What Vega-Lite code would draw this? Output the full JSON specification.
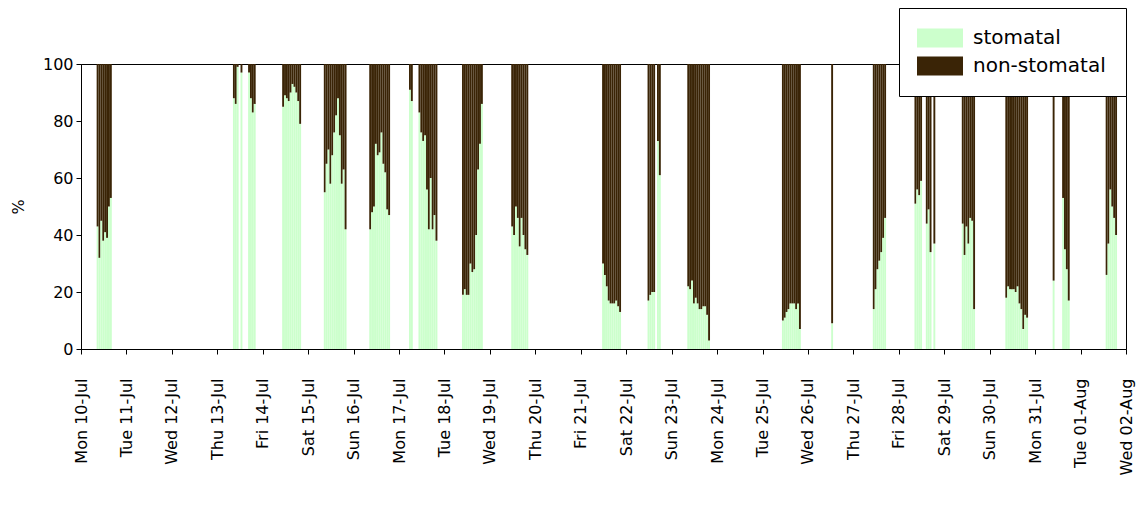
{
  "$schema": "https://vega.github.io/schema/vega-lite/v6.json",
  "width": 1045,
  "height": 285,
  "autosize": {"type": "none"},
  "padding": {"left": 81, "top": 64, "right": 18, "bottom": 159},
  "background": "#ffffff",
  "data": {"values": [
    {"t":"2023-07-10T08:00","stomatal":43,"non-stomatal":57},
    {"t":"2023-07-10T09:00","stomatal":32,"non-stomatal":68},
    {"t":"2023-07-10T10:00","stomatal":45,"non-stomatal":55},
    {"t":"2023-07-10T11:00","stomatal":38,"non-stomatal":62},
    {"t":"2023-07-10T12:00","stomatal":41,"non-stomatal":59},
    {"t":"2023-07-10T13:00","stomatal":39,"non-stomatal":61},
    {"t":"2023-07-10T14:00","stomatal":50,"non-stomatal":50},
    {"t":"2023-07-10T15:00","stomatal":53,"non-stomatal":47},
    {"t":"2023-07-13T08:00","stomatal":88,"non-stomatal":12},
    {"t":"2023-07-13T09:00","stomatal":86,"non-stomatal":14},
    {"t":"2023-07-13T10:00","stomatal":99,"non-stomatal":1},
    {"t":"2023-07-13T12:00","stomatal":97,"non-stomatal":3},
    {"t":"2023-07-13T16:00","stomatal":97,"non-stomatal":3},
    {"t":"2023-07-13T17:00","stomatal":88,"non-stomatal":12},
    {"t":"2023-07-13T18:00","stomatal":83,"non-stomatal":17},
    {"t":"2023-07-13T19:00","stomatal":86,"non-stomatal":14},
    {"t":"2023-07-14T10:00","stomatal":85,"non-stomatal":15},
    {"t":"2023-07-14T11:00","stomatal":89,"non-stomatal":11},
    {"t":"2023-07-14T12:00","stomatal":88,"non-stomatal":12},
    {"t":"2023-07-14T13:00","stomatal":87,"non-stomatal":13},
    {"t":"2023-07-14T14:00","stomatal":90,"non-stomatal":10},
    {"t":"2023-07-14T15:00","stomatal":93,"non-stomatal":7},
    {"t":"2023-07-14T16:00","stomatal":92,"non-stomatal":8},
    {"t":"2023-07-14T17:00","stomatal":90,"non-stomatal":10},
    {"t":"2023-07-14T18:00","stomatal":87,"non-stomatal":13},
    {"t":"2023-07-14T19:00","stomatal":79,"non-stomatal":21},
    {"t":"2023-07-15T08:00","stomatal":55,"non-stomatal":45},
    {"t":"2023-07-15T09:00","stomatal":65,"non-stomatal":35},
    {"t":"2023-07-15T10:00","stomatal":70,"non-stomatal":30},
    {"t":"2023-07-15T11:00","stomatal":58,"non-stomatal":42},
    {"t":"2023-07-15T12:00","stomatal":68,"non-stomatal":32},
    {"t":"2023-07-15T13:00","stomatal":76,"non-stomatal":24},
    {"t":"2023-07-15T14:00","stomatal":82,"non-stomatal":18},
    {"t":"2023-07-15T15:00","stomatal":88,"non-stomatal":12},
    {"t":"2023-07-15T16:00","stomatal":75,"non-stomatal":25},
    {"t":"2023-07-15T17:00","stomatal":58,"non-stomatal":42},
    {"t":"2023-07-15T18:00","stomatal":63,"non-stomatal":37},
    {"t":"2023-07-15T19:00","stomatal":42,"non-stomatal":58},
    {"t":"2023-07-16T08:00","stomatal":42,"non-stomatal":58},
    {"t":"2023-07-16T09:00","stomatal":48,"non-stomatal":52},
    {"t":"2023-07-16T10:00","stomatal":50,"non-stomatal":50},
    {"t":"2023-07-16T11:00","stomatal":72,"non-stomatal":28},
    {"t":"2023-07-16T12:00","stomatal":68,"non-stomatal":32},
    {"t":"2023-07-16T13:00","stomatal":69,"non-stomatal":31},
    {"t":"2023-07-16T14:00","stomatal":76,"non-stomatal":24},
    {"t":"2023-07-16T15:00","stomatal":65,"non-stomatal":35},
    {"t":"2023-07-16T16:00","stomatal":62,"non-stomatal":38},
    {"t":"2023-07-16T17:00","stomatal":49,"non-stomatal":51},
    {"t":"2023-07-16T18:00","stomatal":47,"non-stomatal":53},
    {"t":"2023-07-17T05:00","stomatal":91,"non-stomatal":9},
    {"t":"2023-07-17T06:00","stomatal":87,"non-stomatal":13},
    {"t":"2023-07-17T10:00","stomatal":83,"non-stomatal":17},
    {"t":"2023-07-17T11:00","stomatal":76,"non-stomatal":24},
    {"t":"2023-07-17T12:00","stomatal":73,"non-stomatal":27},
    {"t":"2023-07-17T13:00","stomatal":75,"non-stomatal":25},
    {"t":"2023-07-17T14:00","stomatal":56,"non-stomatal":44},
    {"t":"2023-07-17T15:00","stomatal":42,"non-stomatal":58},
    {"t":"2023-07-17T16:00","stomatal":60,"non-stomatal":40},
    {"t":"2023-07-17T17:00","stomatal":42,"non-stomatal":58},
    {"t":"2023-07-17T18:00","stomatal":47,"non-stomatal":53},
    {"t":"2023-07-17T19:00","stomatal":38,"non-stomatal":62},
    {"t":"2023-07-18T09:00","stomatal":19,"non-stomatal":81},
    {"t":"2023-07-18T10:00","stomatal":21,"non-stomatal":79},
    {"t":"2023-07-18T11:00","stomatal":19,"non-stomatal":81},
    {"t":"2023-07-18T12:00","stomatal":19,"non-stomatal":81},
    {"t":"2023-07-18T13:00","stomatal":30,"non-stomatal":70},
    {"t":"2023-07-18T14:00","stomatal":27,"non-stomatal":73},
    {"t":"2023-07-18T15:00","stomatal":28,"non-stomatal":72},
    {"t":"2023-07-18T16:00","stomatal":40,"non-stomatal":60},
    {"t":"2023-07-18T17:00","stomatal":63,"non-stomatal":37},
    {"t":"2023-07-18T18:00","stomatal":72,"non-stomatal":28},
    {"t":"2023-07-18T19:00","stomatal":86,"non-stomatal":14},
    {"t":"2023-07-19T11:00","stomatal":43,"non-stomatal":57},
    {"t":"2023-07-19T12:00","stomatal":40,"non-stomatal":60},
    {"t":"2023-07-19T13:00","stomatal":50,"non-stomatal":50},
    {"t":"2023-07-19T14:00","stomatal":46,"non-stomatal":54},
    {"t":"2023-07-19T15:00","stomatal":36,"non-stomatal":64},
    {"t":"2023-07-19T16:00","stomatal":46,"non-stomatal":54},
    {"t":"2023-07-19T17:00","stomatal":40,"non-stomatal":60},
    {"t":"2023-07-19T18:00","stomatal":35,"non-stomatal":65},
    {"t":"2023-07-19T19:00","stomatal":33,"non-stomatal":67},
    {"t":"2023-07-21T11:00","stomatal":30,"non-stomatal":70},
    {"t":"2023-07-21T12:00","stomatal":26,"non-stomatal":74},
    {"t":"2023-07-21T13:00","stomatal":22,"non-stomatal":78},
    {"t":"2023-07-21T14:00","stomatal":17,"non-stomatal":83},
    {"t":"2023-07-21T15:00","stomatal":16,"non-stomatal":84},
    {"t":"2023-07-21T16:00","stomatal":16,"non-stomatal":84},
    {"t":"2023-07-21T17:00","stomatal":16,"non-stomatal":84},
    {"t":"2023-07-21T18:00","stomatal":17,"non-stomatal":83},
    {"t":"2023-07-21T19:00","stomatal":15,"non-stomatal":85},
    {"t":"2023-07-21T20:00","stomatal":13,"non-stomatal":87},
    {"t":"2023-07-22T11:00","stomatal":17,"non-stomatal":83},
    {"t":"2023-07-22T12:00","stomatal":19,"non-stomatal":81},
    {"t":"2023-07-22T13:00","stomatal":20,"non-stomatal":80},
    {"t":"2023-07-22T14:00","stomatal":20,"non-stomatal":80},
    {"t":"2023-07-22T16:00","stomatal":73,"non-stomatal":27},
    {"t":"2023-07-22T17:00","stomatal":61,"non-stomatal":39},
    {"t":"2023-07-23T08:00","stomatal":22,"non-stomatal":78},
    {"t":"2023-07-23T09:00","stomatal":21,"non-stomatal":79},
    {"t":"2023-07-23T10:00","stomatal":24,"non-stomatal":76},
    {"t":"2023-07-23T11:00","stomatal":16,"non-stomatal":84},
    {"t":"2023-07-23T12:00","stomatal":18,"non-stomatal":82},
    {"t":"2023-07-23T13:00","stomatal":16,"non-stomatal":84},
    {"t":"2023-07-23T14:00","stomatal":14,"non-stomatal":86},
    {"t":"2023-07-23T15:00","stomatal":14,"non-stomatal":86},
    {"t":"2023-07-23T16:00","stomatal":15,"non-stomatal":85},
    {"t":"2023-07-23T17:00","stomatal":15,"non-stomatal":85},
    {"t":"2023-07-23T18:00","stomatal":12,"non-stomatal":88},
    {"t":"2023-07-23T19:00","stomatal":3,"non-stomatal":97},
    {"t":"2023-07-25T10:00","stomatal":10,"non-stomatal":90},
    {"t":"2023-07-25T11:00","stomatal":11,"non-stomatal":89},
    {"t":"2023-07-25T12:00","stomatal":13,"non-stomatal":87},
    {"t":"2023-07-25T13:00","stomatal":14,"non-stomatal":86},
    {"t":"2023-07-25T14:00","stomatal":16,"non-stomatal":84},
    {"t":"2023-07-25T15:00","stomatal":16,"non-stomatal":84},
    {"t":"2023-07-25T16:00","stomatal":16,"non-stomatal":84},
    {"t":"2023-07-25T17:00","stomatal":14,"non-stomatal":86},
    {"t":"2023-07-25T18:00","stomatal":16,"non-stomatal":84},
    {"t":"2023-07-25T19:00","stomatal":7,"non-stomatal":93},
    {"t":"2023-07-26T12:00","stomatal":9,"non-stomatal":91},
    {"t":"2023-07-27T10:00","stomatal":14,"non-stomatal":86},
    {"t":"2023-07-27T11:00","stomatal":21,"non-stomatal":79},
    {"t":"2023-07-27T12:00","stomatal":28,"non-stomatal":72},
    {"t":"2023-07-27T13:00","stomatal":31,"non-stomatal":69},
    {"t":"2023-07-27T14:00","stomatal":34,"non-stomatal":66},
    {"t":"2023-07-27T15:00","stomatal":39,"non-stomatal":61},
    {"t":"2023-07-27T16:00","stomatal":46,"non-stomatal":54},
    {"t":"2023-07-28T08:00","stomatal":51,"non-stomatal":49},
    {"t":"2023-07-28T09:00","stomatal":56,"non-stomatal":44},
    {"t":"2023-07-28T10:00","stomatal":54,"non-stomatal":46},
    {"t":"2023-07-28T11:00","stomatal":59,"non-stomatal":41},
    {"t":"2023-07-28T14:00","stomatal":44,"non-stomatal":56},
    {"t":"2023-07-28T15:00","stomatal":49,"non-stomatal":51},
    {"t":"2023-07-28T16:00","stomatal":34,"non-stomatal":66},
    {"t":"2023-07-28T18:00","stomatal":37,"non-stomatal":63},
    {"t":"2023-07-29T09:00","stomatal":44,"non-stomatal":56},
    {"t":"2023-07-29T10:00","stomatal":33,"non-stomatal":67},
    {"t":"2023-07-29T11:00","stomatal":43,"non-stomatal":57},
    {"t":"2023-07-29T12:00","stomatal":37,"non-stomatal":63},
    {"t":"2023-07-29T13:00","stomatal":46,"non-stomatal":54},
    {"t":"2023-07-29T14:00","stomatal":45,"non-stomatal":55},
    {"t":"2023-07-29T15:00","stomatal":14,"non-stomatal":86},
    {"t":"2023-07-30T08:00","stomatal":18,"non-stomatal":82},
    {"t":"2023-07-30T09:00","stomatal":22,"non-stomatal":78},
    {"t":"2023-07-30T10:00","stomatal":21,"non-stomatal":79},
    {"t":"2023-07-30T11:00","stomatal":21,"non-stomatal":79},
    {"t":"2023-07-30T12:00","stomatal":21,"non-stomatal":79},
    {"t":"2023-07-30T13:00","stomatal":20,"non-stomatal":80},
    {"t":"2023-07-30T14:00","stomatal":22,"non-stomatal":78},
    {"t":"2023-07-30T15:00","stomatal":16,"non-stomatal":84},
    {"t":"2023-07-30T16:00","stomatal":14,"non-stomatal":86},
    {"t":"2023-07-30T17:00","stomatal":7,"non-stomatal":93},
    {"t":"2023-07-30T18:00","stomatal":12,"non-stomatal":88},
    {"t":"2023-07-30T19:00","stomatal":11,"non-stomatal":89},
    {"t":"2023-07-31T09:00","stomatal":24,"non-stomatal":76},
    {"t":"2023-07-31T14:00","stomatal":53,"non-stomatal":47},
    {"t":"2023-07-31T15:00","stomatal":35,"non-stomatal":65},
    {"t":"2023-07-31T16:00","stomatal":28,"non-stomatal":72},
    {"t":"2023-07-31T17:00","stomatal":17,"non-stomatal":83},
    {"t":"2023-08-01T13:00","stomatal":26,"non-stomatal":74},
    {"t":"2023-08-01T14:00","stomatal":37,"non-stomatal":63},
    {"t":"2023-08-01T15:00","stomatal":56,"non-stomatal":44},
    {"t":"2023-08-01T16:00","stomatal":50,"non-stomatal":50},
    {"t":"2023-08-01T17:00","stomatal":46,"non-stomatal":54},
    {"t":"2023-08-01T18:00","stomatal":40,"non-stomatal":60}
  ]},
  "transform": [{"fold": ["stomatal", "non-stomatal"], "as": ["type", "pct"]}],
  "mark": {"type": "bar", "strokeWidth": 0, "binSpacing": 0},
  "encoding": {
    "x": {
      "field": "t",
      "type": "temporal",
      "timeUnit": "yearmonthdatehours",
      "scale": {"domain": [{"year": 2023, "month": 7, "date": 10}, {"year": 2023, "month": 8, "date": 2}], "nice": false},
      "axis": {
        "title": null,
        "format": "%a %d-%b",
        "formatType": "time",
        "labelAngle": -90,
        "tickCount": {"interval": "day", "step": 1},
        "tickSize": 5,
        "labelPadding": 24,
        "labelFontSize": 16,
        "labelOverlap": false,
        "labelBound": false,
        "labelFlush": false,
        "grid": false
      }
    },
    "y": {
      "field": "pct",
      "type": "quantitative",
      "stack": "zero",
      "scale": {"domain": [0, 100], "nice": false},
      "axis": {
        "title": "%",
        "titleFontSize": 16,
        "titleFontWeight": "normal",
        "titlePadding": 16,
        "values": [0, 20, 40, 60, 80, 100],
        "tickSize": 5,
        "labelPadding": 3,
        "labelFontSize": 16,
        "grid": false
      }
    },
    "color": {
      "field": "type",
      "type": "nominal",
      "scale": {"domain": ["stomatal", "non-stomatal"], "range": ["#ccffcc", "#3a2406"]},
      "legend": {
        "title": null,
        "orient": "none",
        "legendX": 818,
        "legendY": -56,
        "padding": 20,
        "fillColor": "#ffffff",
        "strokeColor": "#000000",
        "symbolType": "M-2.3,-0.95L2.3,-0.95L2.3,0.95L-2.3,0.95Z",
        "symbolSize": 400,
        "symbolOffset": 11,
        "symbolStrokeWidth": 0,
        "symbolOpacity": 1,
        "labelFontSize": 20,
        "labelFont": "DejaVu Sans",
        "labelColor": "#000000",
        "labelOffset": 23,
        "rowPadding": 8,
        "zindex": 5
      }
    },
    "order": {"field": "type", "sort": "descending"}
  },
  "config": {
    "font": "DejaVu Sans",
    "view": {"stroke": "#000000", "strokeWidth": 1},
    "axis": {"domainColor": "#000000", "tickColor": "#000000", "labelColor": "#000000", "titleColor": "#000000", "labelFont": "DejaVu Sans", "titleFont": "DejaVu Sans"}
  }
}
